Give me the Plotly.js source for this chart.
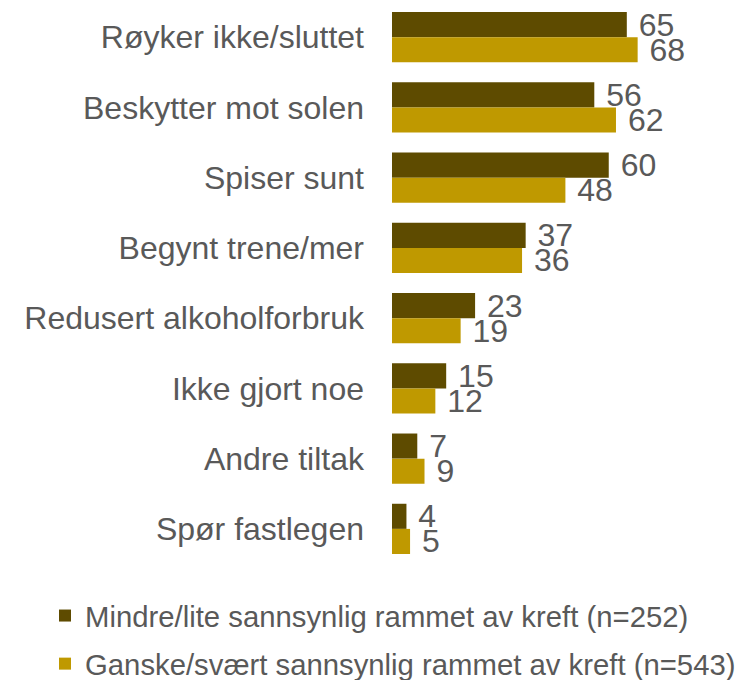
<!DOCTYPE html>
<html>
<head>
<meta charset="utf-8">
<script src="https://cdn.plot.ly/plotly-3.0.1.min.js"></script>
<style>html,body{margin:0;padding:0;background:#fff;}#chart{width:741px;height:680px;}</style>
</head>
<body>
<div id="chart"></div>
<script>
const categories = ["Røyker ikke/sluttet", "Beskytter mot solen", "Spiser sunt", "Begynt trene/mer", "Redusert alkoholforbruk", "Ikke gjort noe", "Andre tiltak", "Spør fastlegen"];
const seriesNames = ["Mindre/lite sannsynlig rammet av kreft (n=252)", "Ganske/svært sannsynlig rammet av kreft (n=543)"];
const lowRisk = [65, 56, 60, 37, 23, 15, 7, 4];
const highRisk = [68, 62, 48, 36, 19, 12, 9, 5];
const colors = ["#5e4b00", "#bf9900"];

const W = 741, H = 680;
const ml = 392, mr = 60, mt = 2, mb = 116;
const font = "Liberation Sans, Arial, sans-serif";
const textColor = "#595959";

function mk(vals, i) {
  return {
    type: "bar", orientation: "h",
    y: categories, x: vals, name: seriesNames[i],
    marker: {color: colors[i]},
    text: vals, texttemplate: "\u00a0%{x}", textposition: "outside",
    constraintext: "none", cliponaxis: false,
    textfont: {family: font, size: 32, color: textColor},
    legendgroup: "g" + i,
    hoverinfo: "x+y"
  };
}

const plotH = H - mt - mb;
const plotW = W - ml - mr;
const legTopPx = 590;

Plotly.newPlot("chart", [mk(lowRisk, 0), mk(highRisk, 1)], {
  width: W, height: H,
  margin: {l: ml, r: mr, t: mt, b: mb, pad: 0, autoexpand: false},
  paper_bgcolor: "#fff", plot_bgcolor: "#fff",
  barmode: "group", bargap: 0.285, bargroupgap: 0,
  font: {family: font, color: textColor},
  xaxis: {range: [0, 80], showgrid: false, zeroline: false, showticklabels: false, showline: false, fixedrange: true},
  yaxis: {autorange: "reversed", showgrid: false, zeroline: false, showline: false, ticks: "",
          ticklabelstandoff: 27, tickfont: {family: font, size: 32, color: textColor}, fixedrange: true},
  showlegend: true,
  legend: {
    orientation: "v", traceorder: "grouped", tracegroupgap: 7,
    x: (45 - ml) / plotW, xanchor: "left",
    y: (H - mb - legTopPx) / plotH, yanchor: "top",
    font: {family: font, size: 29.3, color: textColor},
    bgcolor: "rgba(0,0,0,0)"
  }
}, {displayModeBar: false, staticPlot: true});
</script>
</body>
</html>
